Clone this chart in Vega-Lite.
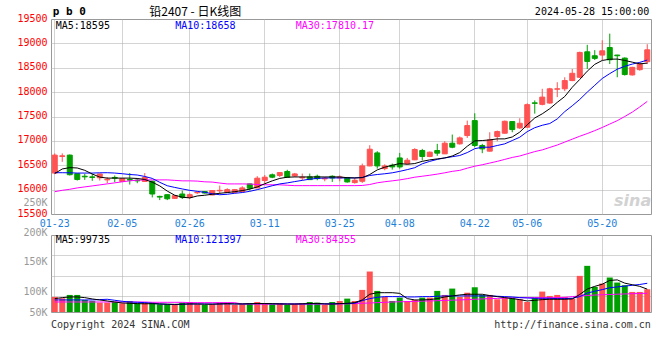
{
"$schema": "https://vega.github.io/schema/vega-lite/v6.json",
"background": "white",
"padding": {"left": 0, "top": 5, "right": 0, "bottom": 0},
"bounds": "flush",
"spacing": 21,
"config": {
  "view": {"stroke": "#999", "strokeWidth": 1},
  "axis": {"ticks": false, "tickSize": 0, "domain": false, "grid": true, "gridColor": "#a8a8a8", "gridDash": [1, 1], "gridWidth": 1, "labelFont": "DejaVu Sans Mono", "labelFontSize": 10, "labelPadding": 4, "labelFlush": false, "labelBound": false},
  "text": {"font": "DejaVu Sans Mono", "fontSize": 10}
},
"datasets": {"k": [
{"d":"01-23","o":16340,"h":16743,"l":16320,"c":16708,"m5":16330,"m10":16347,"m30":15958,"v":70900,"v5":64700,"v10":59800,"v30":52300},
{"d":"01-24","o":16680,"h":16743,"l":16570,"c":16694,"m5":16424,"m10":16347,"m30":15986,"v":66000,"v5":68400,"v10":59800,"v30":52300},
{"d":"01-25","o":16708,"h":16720,"l":16290,"c":16306,"m5":16451,"m10":16345,"m30":16007,"v":78300,"v5":70900,"v10":59800,"v30":52300},
{"d":"01-26","o":16326,"h":16326,"l":16187,"c":16208,"m5":16444,"m10":16340,"m30":16035,"v":78300,"v5":70900,"v10":59800,"v30":52300},
{"d":"01-29","o":16275,"h":16326,"l":16200,"c":16262,"m5":16396,"m10":16340,"m30":16056,"v":59800,"v5":68400,"v10":59800,"v30":52300},
{"d":"01-30","o":16262,"h":16326,"l":16180,"c":16250,"m5":16320,"m10":16340,"m30":16076,"v":56000,"v5":63500,"v10":59800,"v30":52300},
{"d":"01-31","o":16243,"h":16326,"l":16187,"c":16320,"m5":16257,"m10":16345,"m30":16097,"v":49900,"v5":59800,"v10":61000,"v30":52300},
{"d":"02-01","o":16200,"h":16257,"l":16132,"c":16212,"m5":16236,"m10":16347,"m30":16118,"v":49900,"v5":56000,"v10":62300,"v30":52300},
{"d":"02-02","o":16250,"h":16290,"l":16153,"c":16236,"m5":16236,"m10":16340,"m30":16139,"v":52300,"v5":52300,"v10":58500,"v30":52300},
{"d":"02-05","o":16167,"h":16230,"l":16160,"c":16222,"m5":16236,"m10":16326,"m30":16160,"v":47400,"v5":48600,"v10":54800,"v30":52300},
{"d":"02-06","o":16208,"h":16340,"l":16104,"c":16195,"m5":16236,"m10":16310,"m30":16180,"v":56000,"v5":47400,"v10":52300,"v30":52300},
{"d":"02-07","o":16194,"h":16236,"l":16132,"c":16180,"m5":16229,"m10":16300,"m30":16194,"v":47400,"v5":46200,"v10":51100,"v30":52300},
{"d":"02-08","o":16167,"h":16340,"l":16160,"c":16250,"m5":16208,"m10":16270,"m30":16200,"v":49900,"v5":45500,"v10":49900,"v30":52300},
{"d":"02-19","o":16174,"h":16180,"l":15840,"c":15910,"m5":16153,"m10":16230,"m30":16200,"v":49900,"v5":46000,"v10":47400,"v30":51000},
{"d":"02-20","o":15861,"h":15875,"l":15785,"c":15847,"m5":16076,"m10":16150,"m30":16200,"v":43700,"v5":45000,"v10":45000,"v30":51000},
{"d":"02-21","o":15896,"h":15900,"l":15785,"c":15812,"m5":15970,"m10":16080,"m30":16200,"v":43700,"v5":44000,"v10":43700,"v30":51000},
{"d":"02-22","o":15820,"h":15885,"l":15815,"c":15876,"m5":15885,"m10":16045,"m30":16190,"v":41200,"v5":43500,"v10":42500,"v30":51000},
{"d":"02-23","o":15910,"h":15980,"l":15807,"c":15841,"m5":15845,"m10":16014,"m30":16180,"v":49900,"v5":44000,"v10":44000,"v30":51000},
{"d":"02-26","o":15841,"h":15924,"l":15807,"c":15896,"m5":15830,"m10":15985,"m30":16180,"v":52300,"v5":45000,"v10":45000,"v30":49900},
{"d":"02-27","o":15935,"h":15960,"l":15910,"c":15945,"m5":15870,"m10":15965,"m30":16175,"v":43700,"v5":45000,"v10":45000,"v30":49900},
{"d":"02-28","o":15960,"h":15970,"l":15920,"c":15930,"m5":15885,"m10":15945,"m30":16160,"v":41200,"v5":44000,"v10":45000,"v30":49900},
{"d":"02-29","o":15890,"h":15990,"l":15885,"c":15980,"m5":15905,"m10":15915,"m30":16155,"v":43700,"v5":44000,"v10":44500,"v30":49900},
{"d":"03-01","o":15975,"h":16083,"l":15910,"c":15985,"m5":15925,"m10":15895,"m30":16135,"v":49900,"v5":45000,"v10":45000,"v30":49900},
{"d":"03-04","o":15945,"h":16028,"l":15940,"c":16000,"m5":15940,"m10":15905,"m30":16117,"v":49900,"v5":46000,"v10":45500,"v30":49900},
{"d":"03-05","o":15945,"h":16010,"l":15940,"c":16000,"m5":15958,"m10":15925,"m30":16117,"v":41200,"v5":45000,"v10":45000,"v30":49900},
{"d":"03-06","o":15960,"h":16070,"l":15955,"c":16035,"m5":15980,"m10":15940,"m30":16117,"v":43700,"v5":45000,"v10":45000,"v30":44500},
{"d":"03-07","o":16117,"h":16120,"l":15980,"c":16028,"m5":16010,"m10":15965,"m30":16115,"v":46200,"v5":46000,"v10":45500,"v30":44500},
{"d":"03-08","o":16035,"h":16276,"l":16030,"c":16235,"m5":16055,"m10":16000,"m30":16105,"v":52300,"v5":46500,"v10":46000,"v30":44500},
{"d":"03-11","o":16186,"h":16300,"l":16117,"c":16255,"m5":16120,"m10":16040,"m30":16100,"v":47400,"v5":46500,"v10":46000,"v30":44500},
{"d":"03-12","o":16304,"h":16330,"l":16235,"c":16255,"m5":16180,"m10":16080,"m30":16100,"v":43700,"v5":46000,"v10":45500,"v30":44500},
{"d":"03-13","o":16290,"h":16355,"l":16255,"c":16350,"m5":16230,"m10":16117,"m30":16098,"v":47400,"v5":45000,"v10":45500,"v30":44500},
{"d":"03-14","o":16372,"h":16407,"l":16250,"c":16255,"m5":16255,"m10":16138,"m30":16090,"v":41200,"v5":44500,"v10":45000,"v30":44500},
{"d":"03-15","o":16281,"h":16342,"l":16260,"c":16322,"m5":16260,"m10":16165,"m30":16082,"v":43700,"v5":44500,"v10":45000,"v30":44500},
{"d":"03-18","o":16240,"h":16329,"l":16192,"c":16254,"m5":16260,"m10":16190,"m30":16082,"v":47400,"v5":45500,"v10":45000,"v30":44500},
{"d":"03-19","o":16260,"h":16329,"l":16200,"c":16205,"m5":16260,"m10":16215,"m30":16082,"v":52300,"v5":46500,"v10":45500,"v30":44500},
{"d":"03-20","o":16274,"h":16308,"l":16192,"c":16226,"m5":16260,"m10":16230,"m30":16082,"v":49900,"v5":47000,"v10":46000,"v30":44500},
{"d":"03-21","o":16220,"h":16260,"l":16171,"c":16232,"m5":16260,"m10":16240,"m30":16082,"v":41200,"v5":45000,"v10":45500,"v30":44500},
{"d":"03-22","o":16274,"h":16294,"l":16158,"c":16240,"m5":16260,"m10":16240,"m30":16082,"v":52300,"v5":44500,"v10":45500,"v30":44500},
{"d":"03-25","o":16240,"h":16294,"l":16171,"c":16260,"m5":16260,"m10":16240,"m30":16082,"v":56000,"v5":46200,"v10":46000,"v30":45000},
{"d":"03-26","o":16247,"h":16260,"l":16144,"c":16158,"m5":16245,"m10":16240,"m30":16082,"v":64700,"v5":47400,"v10":46500,"v30":45500},
{"d":"03-27","o":16144,"h":16240,"l":16123,"c":16192,"m5":16240,"m10":16240,"m30":16082,"v":56000,"v5":49900,"v10":47400,"v30":46500},
{"d":"03-28","o":16171,"h":16534,"l":16137,"c":16486,"m5":16245,"m10":16250,"m30":16085,"v":96900,"v5":59800,"v10":57300,"v30":47400},
{"d":"03-29","o":16486,"h":16911,"l":16480,"c":16829,"m5":16310,"m10":16290,"m30":16105,"v":164900,"v5":80800,"v10":64700,"v30":48500},
{"d":"04-01","o":16753,"h":16788,"l":16431,"c":16486,"m5":16405,"m10":16310,"m30":16140,"v":93200,"v5":86600,"v10":69600,"v30":49900},
{"d":"04-02","o":16431,"h":16520,"l":16397,"c":16486,"m5":16460,"m10":16325,"m30":16162,"v":70900,"v5":86600,"v10":72100,"v30":51000},
{"d":"04-03","o":16500,"h":16534,"l":16411,"c":16466,"m5":16500,"m10":16345,"m30":16180,"v":56000,"v5":86600,"v10":72100,"v30":52300},
{"d":"04-08","o":16650,"h":16753,"l":16431,"c":16466,"m5":16534,"m10":16375,"m30":16200,"v":68400,"v5":84100,"v10":72100,"v30":53000},
{"d":"04-09","o":16534,"h":16650,"l":16517,"c":16603,"m5":16520,"m10":16410,"m30":16225,"v":56000,"v5":64700,"v10":70900,"v30":53500},
{"d":"04-10","o":16611,"h":16850,"l":16605,"c":16823,"m5":16535,"m10":16450,"m30":16255,"v":59800,"v5":59800,"v10":70900,"v30":54500},
{"d":"04-11","o":16802,"h":16836,"l":16598,"c":16680,"m5":16580,"m10":16530,"m30":16275,"v":68400,"v5":59800,"v10":72100,"v30":55500},
{"d":"04-12","o":16680,"h":16782,"l":16666,"c":16768,"m5":16610,"m10":16580,"m30":16295,"v":68400,"v5":61000,"v10":72100,"v30":56000},
{"d":"04-15","o":16802,"h":16939,"l":16693,"c":16748,"m5":16630,"m10":16620,"m30":16318,"v":93200,"v5":64700,"v10":73400,"v30":57000},
{"d":"04-16","o":16734,"h":16993,"l":16730,"c":16952,"m5":16650,"m10":16650,"m30":16345,"v":78300,"v5":70900,"v10":74600,"v30":58000},
{"d":"04-17","o":16952,"h":17130,"l":16850,"c":16870,"m5":16690,"m10":16675,"m30":16375,"v":101800,"v5":74600,"v10":74600,"v30":59000},
{"d":"04-18","o":16939,"h":17089,"l":16925,"c":17061,"m5":16760,"m10":16700,"m30":16395,"v":70900,"v5":78300,"v10":74600,"v30":59800},
{"d":"04-19","o":17109,"h":17416,"l":17061,"c":17314,"m5":16890,"m10":16760,"m30":16440,"v":86600,"v5":80800,"v10":74600,"v30":61000},
{"d":"04-22","o":17416,"h":17566,"l":16870,"c":16905,"m5":17000,"m10":16840,"m30":16480,"v":106700,"v5":80800,"v10":74600,"v30":62300},
{"d":"04-23","o":16905,"h":16939,"l":16748,"c":16836,"m5":17007,"m10":16870,"m30":16510,"v":78300,"v5":80800,"v10":74600,"v30":63500},
{"d":"04-24","o":16789,"h":17177,"l":16780,"c":17020,"m5":17020,"m10":16870,"m30":16545,"v":78300,"v5":75900,"v10":74600,"v30":64700},
{"d":"04-25","o":17089,"h":17211,"l":16993,"c":17191,"m5":17041,"m10":16905,"m30":16580,"v":62300,"v5":72100,"v10":73400,"v30":65500},
{"d":"04-26","o":17157,"h":17416,"l":17150,"c":17402,"m5":17041,"m10":16939,"m30":16620,"v":68400,"v5":68400,"v10":72100,"v30":66500},
{"d":"04-29","o":17396,"h":17400,"l":17177,"c":17232,"m5":17080,"m10":17007,"m30":16660,"v":68400,"v5":64700,"v10":70900,"v30":67500},
{"d":"04-30","o":17266,"h":17464,"l":17245,"c":17361,"m5":17180,"m10":17075,"m30":16690,"v":62300,"v5":61000,"v10":68400,"v30":68400},
{"d":"05-06","o":17280,"h":17770,"l":17275,"c":17743,"m5":17330,"m10":17190,"m30":16735,"v":52300,"v5":56000,"v10":67100,"v30":68400},
{"d":"05-07","o":17780,"h":17830,"l":17559,"c":17770,"m5":17470,"m10":17270,"m30":16780,"v":68400,"v5":58500,"v10":65900,"v30":68400},
{"d":"05-08","o":17749,"h":18068,"l":17729,"c":17898,"m5":17555,"m10":17320,"m30":16815,"v":90700,"v5":61000,"v10":65900,"v30":68400},
{"d":"05-09","o":17776,"h":18088,"l":17763,"c":18068,"m5":17660,"m10":17356,"m30":16865,"v":74600,"v5":62300,"v10":65900,"v30":68400},
{"d":"05-10","o":18060,"h":18203,"l":17898,"c":18068,"m5":17790,"m10":17450,"m30":16915,"v":78300,"v5":62300,"v10":64700,"v30":68400},
{"d":"05-13","o":18068,"h":18305,"l":18020,"c":18237,"m5":17910,"m10":17600,"m30":16975,"v":70900,"v5":62300,"v10":64700,"v30":69500},
{"d":"05-14","o":18237,"h":18475,"l":18224,"c":18386,"m5":18100,"m10":17720,"m30":17035,"v":64700,"v5":63500,"v10":65900,"v30":72000},
{"d":"05-15","o":18305,"h":18830,"l":18290,"c":18814,"m5":18260,"m10":17850,"m30":17095,"v":148800,"v5":80000,"v10":72100,"v30":74600},
{"d":"05-16","o":18827,"h":18970,"l":18475,"c":18630,"m5":18430,"m10":18000,"m30":17150,"v":185900,"v5":100000,"v10":85000,"v30":76000},
{"d":"05-17","o":18746,"h":18861,"l":18658,"c":18692,"m5":18570,"m10":18140,"m30":17210,"v":108000,"v5":110000,"v10":92000,"v30":78000},
{"d":"05-20","o":18760,"h":19064,"l":18658,"c":18848,"m5":18650,"m10":18280,"m30":17275,"v":120400,"v5":118000,"v10":98000,"v30":79000},
{"d":"05-21","o":18915,"h":19200,"l":18576,"c":18664,"m5":18675,"m10":18380,"m30":17345,"v":142700,"v5":132000,"v10":105000,"v30":80000},
{"d":"05-22","o":18760,"h":18766,"l":18305,"c":18746,"m5":18678,"m10":18470,"m30":17415,"v":124100,"v5":134000,"v10":108000,"v30":81000},
{"d":"05-23","o":18698,"h":18712,"l":18340,"c":18360,"m5":18650,"m10":18530,"m30":17500,"v":114200,"v5":122000,"v10":111000,"v30":82000},
{"d":"05-24","o":18353,"h":18520,"l":18340,"c":18508,"m5":18615,"m10":18575,"m30":17590,"v":89400,"v5":116000,"v10":114000,"v30":83000},
{"d":"05-27","o":18461,"h":18610,"l":18440,"c":18576,"m5":18580,"m10":18610,"m30":17695,"v":89400,"v5":110000,"v10":117000,"v30":83800},
{"d":"05-28","o":18624,"h":18983,"l":18576,"c":18868,"m5":18595,"m10":18658,"m30":17810,"v":99300,"v5":99735,"v10":121397,"v30":84355}
]},
"vconcat": [
{
  "width": 600, "height": 195,
  "data": {"name": "k"},
  "encoding": {
    "x": {"field": "d", "type": "ordinal", "sort": null, "title": null,
      "scale": {"type": "band", "paddingInner": 0, "paddingOuter": 0},
      "axis": {"values": ["01-23","02-05","02-26","03-11","03-25","04-08","04-22","05-06","05-20"], "labelAngle": 0, "labelColor": "#1e7fd8", "labelPadding": 4, "labelOverlap": false}}
  },
  "layer": [
    {"mark": {"type": "rule", "strokeWidth": 1},
     "encoding": {
       "y": {"field": "l", "type": "quantitative", "title": null,
         "scale": {"domain": [15500, 19500], "zero": false, "nice": false},
         "axis": {"values": [15500, 15720, 16000, 16500, 17000, 17500, 18000, 18500, 19000, 19500], "format": "d", "tickCount": 50,
           "labelOverlap": false, "labelFlush": false,
           "labelExpr": "datum.value == 15720 ? '250K' : datum.label",
           "labelColor": {"condition": {"test": "datum.value == 15720", "value": "#999999"}, "value": "#ff0000"},
           "gridOpacity": {"condition": {"test": "datum.value == 15720 || datum.value == 15500 || datum.value == 19500", "value": 0}, "value": 1},
           "labelOffset": -1, "minExtent": 50, "maxExtent": 50}},
       "y2": {"field": "h"},
       "color": {"condition": {"test": "datum.c >= datum.o", "value": "#ff5252"}, "value": "#009f00"}}},
    {"mark": {"type": "bar", "size": 5, "strokeWidth": 1},
     "encoding": {
       "y": {"field": "o", "type": "quantitative", "title": null},
       "y2": {"field": "c"},
       "color": {"condition": {"test": "datum.c >= datum.o", "value": "#ff5252"}, "value": "#009f00"},
       "stroke": {"condition": {"test": "datum.c >= datum.o", "value": "#ff5252"}, "value": "#009f00"}}},
    {"mark": {"type": "line", "color": "#ff00ff", "strokeWidth": 1}, "encoding": {"y": {"field": "m30", "type": "quantitative", "title": null}}},
    {"mark": {"type": "line", "color": "#0000ff", "strokeWidth": 1}, "encoding": {"y": {"field": "m10", "type": "quantitative", "title": null}}},
    {"mark": {"type": "line", "color": "#000000", "strokeWidth": 1}, "encoding": {"y": {"field": "m5", "type": "quantitative", "title": null}}},
    {"data": {"values": [{}]},
     "mark": {"type": "text", "align": "right", "baseline": "alphabetic", "dx": 4, "dy": -8, "font": "DejaVu Sans", "fontSize": 16, "fontStyle": "italic", "fontWeight": "bold", "color": "#d2d2d2"},
     "encoding": {"x": {"datum": "05-28", "type": "ordinal"}, "y": {"datum": 15500, "type": "quantitative"}, "text": {"value": "sina"}}},
    {"data": {"values": [{}]},
     "mark": {"type": "text", "align": "left", "baseline": "middle", "dx": -2, "dy": -7, "fontWeight": "bold", "fontSize": 11, "color": "#000"},
     "encoding": {"x": {"datum": "01-23", "type": "ordinal"}, "y": {"datum": 19500, "type": "quantitative"}, "text": {"value": "p b 0"}}},
    {"data": {"values": [{}]},
     "mark": {"type": "text", "align": "center", "baseline": "middle", "dx": -2, "dy": -7, "font": "Noto Sans CJK SC", "fontSize": 12, "color": "#000"},
     "encoding": {"x": {"datum": "02-27", "type": "ordinal"}, "y": {"datum": 19500, "type": "quantitative"}, "text": {"value": "铅2407 - 日K线图"}}},
    {"data": {"values": [{}]},
     "mark": {"type": "text", "align": "right", "baseline": "middle", "dx": 2, "dy": -7, "color": "#000"},
     "encoding": {"x": {"datum": "05-28", "type": "ordinal"}, "y": {"datum": 19500, "type": "quantitative"}, "text": {"value": "2024-05-28 15:00:00"}}},
    {"data": {"values": [{}]},
     "mark": {"type": "text", "align": "left", "baseline": "middle", "dx": 1, "dy": 6.5, "color": "#000000"},
     "encoding": {"x": {"datum": "01-23", "type": "ordinal"}, "y": {"datum": 19500, "type": "quantitative"}, "text": {"value": "MA5:18595"}}},
    {"data": {"values": [{}]},
     "mark": {"type": "text", "align": "left", "baseline": "middle", "dx": 0.5, "dy": 6.5, "color": "#0000ff"},
     "encoding": {"x": {"datum": "02-22", "type": "ordinal"}, "y": {"datum": 19500, "type": "quantitative"}, "text": {"value": "MA10:18658"}}},
    {"data": {"values": [{}]},
     "mark": {"type": "text", "align": "left", "baseline": "middle", "dx": 1, "dy": 6.5, "color": "#ff00ff"},
     "encoding": {"x": {"datum": "03-15", "type": "ordinal"}, "y": {"datum": 19500, "type": "quantitative"}, "text": {"value": "MA30:17810.17"}}}
  ]
},
{
  "width": 600, "height": 77,
  "data": {"name": "k"},
  "encoding": {
    "x": {"field": "d", "type": "ordinal", "sort": null, "title": null,
      "scale": {"type": "band", "paddingInner": 0, "paddingOuter": 0},
      "axis": {"values": ["01-23","02-05","02-26","03-11","03-25","04-08","04-22","05-06","05-20"], "labels": false}}
  },
  "layer": [
    {"mark": {"type": "bar", "size": 6, "clip": true},
     "encoding": {
       "y": {"field": "v", "type": "quantitative", "title": null,
         "scale": {"domain": [15200, 300000], "zero": false, "nice": false},
         "axis": {"values": [15200, 75000, 90300, 150000, 203800, 225000, 300000], "tickCount": 50,
           "labelOverlap": false, "labelFlush": false,
           "labelExpr": "datum.value == 15200 ? '50K' : datum.value == 90300 ? '100K' : datum.value == 203800 ? '150K' : datum.value == 300000 ? '200K' : ''",
           "labelColor": "#999999",
           "labelBaseline": {"condition": {"test": "datum.value == 300000", "value": "alphabetic"}, "value": "middle"},
           "gridOpacity": {"condition": {"test": "datum.value == 75000 || datum.value == 150000 || datum.value == 225000", "value": 1}, "value": 0},
           "minExtent": 50, "maxExtent": 50}},
       "color": {"condition": {"test": "datum.c >= datum.o", "value": "#ff5252"}, "value": "#009f00"}}},
    {"mark": {"type": "line", "color": "#ff00ff", "strokeWidth": 1}, "encoding": {"y": {"field": "v30", "type": "quantitative", "title": null}}},
    {"mark": {"type": "line", "color": "#0000ff", "strokeWidth": 1}, "encoding": {"y": {"field": "v10", "type": "quantitative", "title": null}}},
    {"mark": {"type": "line", "color": "#000000", "strokeWidth": 1}, "encoding": {"y": {"field": "v5", "type": "quantitative", "title": null}}},
    {"data": {"values": [{}]},
     "mark": {"type": "text", "align": "left", "baseline": "middle", "dx": 1, "dy": 5, "color": "#000000"},
     "encoding": {"x": {"datum": "01-23", "type": "ordinal"}, "y": {"datum": 300000, "type": "quantitative"}, "text": {"value": "MA5:99735"}}},
    {"data": {"values": [{}]},
     "mark": {"type": "text", "align": "left", "baseline": "middle", "dx": 0.5, "dy": 5, "color": "#0000ff"},
     "encoding": {"x": {"datum": "02-22", "type": "ordinal"}, "y": {"datum": 300000, "type": "quantitative"}, "text": {"value": "MA10:121397"}}},
    {"data": {"values": [{}]},
     "mark": {"type": "text", "align": "left", "baseline": "middle", "dx": 1, "dy": 5, "color": "#ff00ff"},
     "encoding": {"x": {"datum": "03-15", "type": "ordinal"}, "y": {"datum": 300000, "type": "quantitative"}, "text": {"value": "MA30:84355"}}},
    {"data": {"values": [{}]},
     "mark": {"type": "text", "align": "left", "baseline": "middle", "dx": -3.75, "dy": 12.5, "color": "#333333"},
     "encoding": {"x": {"datum": "01-23", "type": "ordinal"}, "y": {"datum": 15200, "type": "quantitative"}, "text": {"value": "Copyright 2024 SINA.COM"}}},
    {"data": {"values": [{}]},
     "mark": {"type": "text", "align": "right", "baseline": "middle", "dx": 3.5, "dy": 12.5, "color": "#333333"},
     "encoding": {"x": {"datum": "05-28", "type": "ordinal"}, "y": {"datum": 15200, "type": "quantitative"}, "text": {"value": "http://finance.sina.com.cn"}}}
  ]
}
]
}
